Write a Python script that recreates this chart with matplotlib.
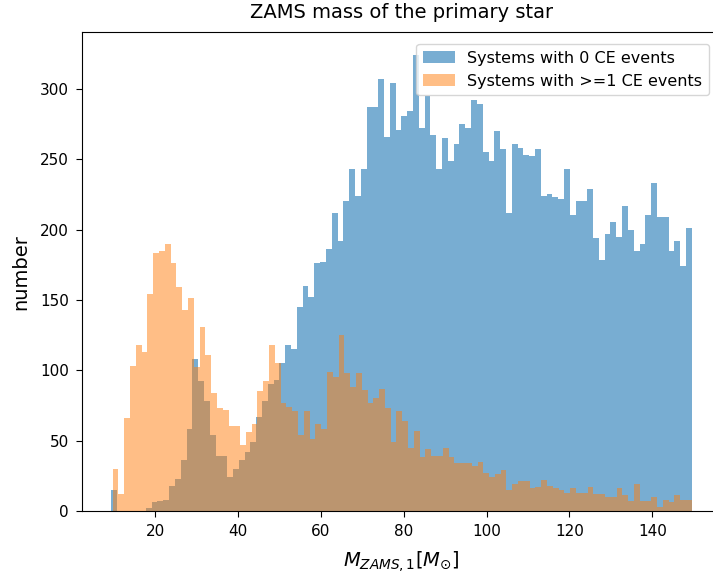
import numpy as np
import matplotlib
matplotlib.use("Agg")
import matplotlib.pyplot as plt

# Histogram counts (100 bins each)
counts_0ce = [15, 0, 0, 0, 0, 0, 2, 6, 7, 8,
              18, 23, 36, 58, 108, 92, 78, 54, 39, 39,
              24, 30, 36, 42, 49, 67, 78, 90, 93, 105,
              118, 115, 145, 160, 152, 176, 177, 186, 212, 192,
              220, 243, 224, 243, 287, 287, 307, 266, 304, 271,
              281, 284, 324, 272, 295, 267, 243, 265, 249, 261,
              275, 272, 292, 289, 255, 249, 270, 257, 212, 261,
              258, 253, 252, 257, 224, 225, 223, 222, 243, 210,
              220, 220, 229, 194, 178, 197, 205, 195, 217, 200,
              185, 190, 210, 233, 209, 209, 185, 192, 174, 201]
counts_ce = [30, 12, 66, 103, 118, 113, 154, 183, 185, 190,
             176, 159, 143, 151, 102, 131, 111, 84, 73, 72,
             60, 60, 47, 56, 62, 85, 92, 118, 105, 77,
             74, 71, 54, 71, 51, 62, 58, 99, 95, 125,
             98, 88, 98, 86, 77, 80, 87, 73, 49, 71,
             64, 45, 57, 38, 44, 39, 39, 45, 38, 34,
             34, 34, 32, 35, 27, 24, 26, 29, 15, 19,
             21, 21, 16, 17, 22, 18, 16, 15, 13, 16,
             13, 13, 17, 12, 12, 10, 10, 16, 11, 7,
             19, 7, 7, 10, 3, 8, 6, 11, 8, 8]
# data range (min, max mass) of each sample
range_0ce = (9.3, 149.55)
range_ce = (9.7, 149.55)

labels = ["Systems with 0 CE events", "Systems with >=1 CE events"]
alphas = [0.6, 0.5]

fig = plt.figure(figsize=(7.13, 5.76), dpi=100)
ax = fig.add_axes([0.115, 0.113, 0.896, 0.831])

for counts, rng, lab, a in [(counts_0ce, range_0ce, labels[0], alphas[0]),
                            (counts_ce, range_ce, labels[1], alphas[1])]:
    edges = np.linspace(rng[0], rng[1], len(counts) + 1)
    centers = 0.5 * (edges[:-1] + edges[1:])
    ax.hist(centers, bins=edges, weights=counts, alpha=a, label=lab)

ax.set_title("ZAMS mass of the primary star", fontsize=14, pad=10)
ax.set_xlabel(r"$M_{ZAMS,1} [M_{\odot}]$", fontsize=14, labelpad=7)
ax.set_ylabel("number", fontsize=14, labelpad=7)
ax.tick_params(labelsize=11, length=4.5, pad=5)
ax.legend(loc="upper right", fontsize=11.5, borderaxespad=0.75)

fig.savefig("out.png", dpi=100)
